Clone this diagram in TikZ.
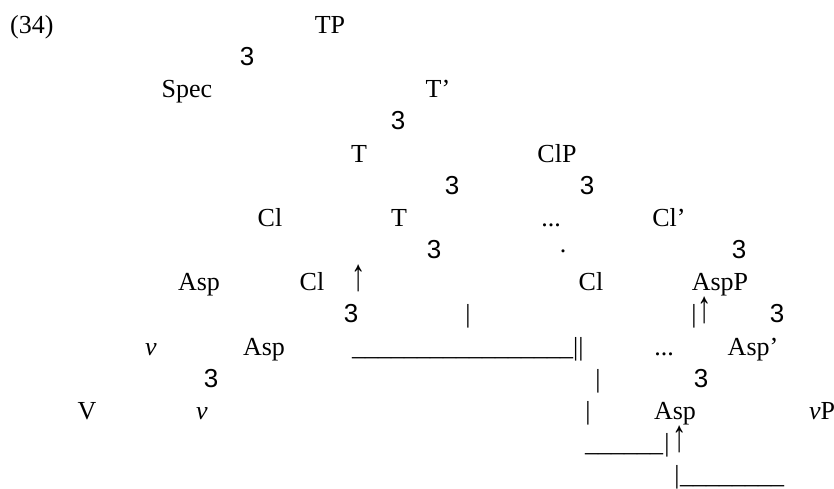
\documentclass[tikz,border=0pt]{standalone}
\usepackage{graphicx}
\usepackage{fontspec}
\setmainfont{Liberation Serif}
\newfontfamily\branchfont{Liberation Sans}
% tall thin upward arrow used for movement marks
\newcommand{\movearrow}{\scalebox{1.1}[1.75]{↑}}
\begin{document}
\begin{tikzpicture}[x=1pt,y=-1pt,
  lbl/.style={anchor=base,inner sep=0pt,font=\fontsize{26}{30}\selectfont},
  lblw/.style={lbl,anchor=base west},
  branch/.style={lbl,font=\fontsize{26}{30}\selectfont\branchfont}]
\useasboundingbox (0,0) rectangle (834,489);

% row 1
\node[lblw] (num) at (10,34) {(34)};
\node[lbl] (tp) at (330,34) {TP};
% row 2
\node[branch] (b1) at (247,66) {3};
% row 3
\node[lbl] (spec) at (187,98) {Spec};
\node[lbl] (tbar) at (438,98) {T’};
% row 4
\node[branch] (b2) at (398,130) {3};
% row 5
\node[lbl] (t1) at (359,162) {T};
\node[lbl] (clp) at (557,162) {ClP};
% row 6
\node[branch] (b3) at (452,194.5) {3};
\node[branch] (b4) at (587,194.5) {3};
% row 7
\node[lbl] (cl1) at (270,226.6) {Cl};
\node[lbl] (t2) at (399,226.6) {T};
\node[lbl] (dots1) at (551,226.6) {...};
\node[lbl] (clbar) at (669,226.6) {Cl’};
% row 8
\node[branch] (b5) at (434,258.7) {3};
\node[lbl] (dot) at (563,252) {.};
\node[branch] (b6) at (739,258.7) {3};
% row 9
\node[lbl] (asp1) at (199,290.8) {Asp};
\node[lbl] (cl2) at (312,290.8) {Cl};
\node[lbl] (up1) at (359,290.8) {\movearrow};
\node[lbl] (cl3) at (591,290.8) {Cl};
\node[lbl] (aspp) at (720,290.8) {AspP};
% row 10
\node[branch] (b7) at (351,322.9) {3};
\node[lbl] (bar1) at (468,322.9) {|};
\node[lbl] (bar2) at (694,322.9) {|};
\node[lbl] (up2) at (705,322.9) {\movearrow};
\node[branch] (b8) at (777,322.9) {3};
% row 11
\node[lbl] (v1) at (151,355) {\itshape v};
\node[lbl] (asp2) at (264,355) {Asp};
\node[lblw] (line1) at (352,355) {\_\_\_\_\_\_\_\_\_\_\_\_\_\_\_\_\_||};
\node[lbl] (dots2) at (664,355) {...};
\node[lbl] (aspbar) at (753,355) {Asp’};
% row 12
\node[branch] (b9) at (211,387.1) {3};
\node[lbl] (bar3) at (598,387.1) {|};
\node[branch] (b10) at (701,387.1) {3};
% row 13
\node[lbl] (vv) at (87,419.2) {V};
\node[lbl] (v2) at (202,419.2) {\itshape v};
\node[lbl] (bar4) at (588,419.2) {|};
\node[lbl] (asp3) at (675,419.2) {Asp};
\node[lbl] (vp) at (822,419.2) {\textit{v}P};
% row 14
\node[lblw] (line2) at (585,451.3) {\_\_\_\_\_\_};
\node[lbl] (bar5) at (667,451.3) {|};
\node[lbl] (up3) at (680,451.3) {\movearrow};
% row 15
\node[lbl] (bar6) at (677,483.4) {|};
\node[lblw] (line3) at (680,483.4) {\_\_\_\_\_\_\_\_};
\end{tikzpicture}
\end{document}
